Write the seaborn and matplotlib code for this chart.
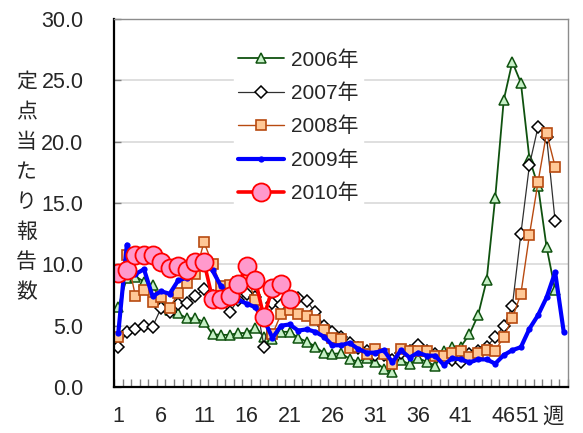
import numpy as np
import pandas as pd
import matplotlib
matplotlib.use("Agg")
import matplotlib.pyplot as plt
import matplotlib.transforms as mtransforms
import seaborn as sns

# values (per-sentinel reports by week)
weeks = list(range(1, 54))
nan = np.nan

y2006 = [6.5, 8.9, 9.0, 8.6, 8.3, 7.0, 6.3, 6.0, 5.6, 5.6,
         5.3, 4.3, 4.25, 4.25, 4.4, 4.4, 4.85, 4.1, 3.9, 4.5,
         4.5, 4.0, 3.7, 3.3, 2.75, 2.7, 2.75, 2.3, 2.05, 2.4,
         2.05, 1.5, 1.2, 2.2, 1.85, 2.35, 2.05, 1.75, 2.9, 3.3,
         3.3, 4.3, 5.85, 8.7, 15.4, 23.4, 26.5, 24.8, 18.6, 16.4,
         11.4, 7.9, nan]
y2007 = [3.25, 4.5, 4.7, 5.0, 4.9, 6.45, 6.1, 6.75, 6.85, 7.4,
         8.0, 7.4, 6.9, 6.1, 7.1, 7.6, 7.3, 3.3, 6.85, 6.7,
         7.2, 7.25, 7.0, 6.1, 5.0, 4.5, 4.1, 3.6, 3.2, 2.9,
         2.6, 2.6, 2.2, 2.8, 2.9, 3.45, 2.9, 2.7, 2.4, 2.2,
         2.05, 2.7, 2.9, 3.3, 4.05, 5.0, 6.6, 12.5, 18.1, 21.2,
         20.4, 13.5, nan]
y2008 = [4.05, 10.75, 7.4, 7.9, 6.95, 7.3, 6.4, 7.7, 8.45, 9.25,
         11.8, 10.05, 8.2, 8.3, 8.6, 9.0, 7.1, 5.6, 4.3, 5.95, 6.25,
         5.95, 5.8, 5.45, 4.65, 4.0, 3.95, 3.2, 3.3, 2.7, 3.1,
         2.7, 1.9, 3.1, 2.95, 2.95, 2.95, 2.55, 2.55, 2.8, 2.95,
         2.45, 2.75, 3.05, 2.95, 4.1, 5.6, 7.6, 12.4, 16.7, 20.7,
         17.95, nan]
y2009 = [4.4, 11.6, 9.2, 9.6, 7.4, 7.8, 7.6, 8.7, 8.9, 9.7,
         10.1, 9.5, 8.2, 7.5, 7.1, 6.8, 6.5, 5.5, 4.0, 5.0,
         5.1, 4.6, 4.7, 4.5, 4.1, 3.4, 3.4, 3.6, 3.1, 2.8,
         2.8, 3.0, 2.0, 3.0, 2.4, 2.8, 2.55, 2.55, 1.8, 2.35,
         2.25, 2.0, 2.25, 2.25, 1.9, 2.6, 3.0, 3.25, 4.75, 5.85,
         7.3, 9.35, 4.5]
y2010 = [9.3, 9.5, 10.8, 10.8, 10.8, 10.2, 9.7, 9.9, 9.5, 10.2,
         10.2, 7.2, 7.2, 7.4, 8.4, 9.9, 8.7, 5.7, 8.1, 8.4,
         7.2] + [nan] * 32

years = ["2006年", "2007年", "2008年", "2009年", "2010年"]
tick_weeks = [1, 6, 11, 16, 21, 26, 31, 36, 41, 46, 51, 53]
tick_labels = ["1", "6", "11", "16", "21", "26", "31", "36", "41", "46", "51", "週"]
ylabel = "定点当たり報告数"

sns.set_theme(style="white")
plt.rcParams["font.family"] = ["Liberation Sans", "Noto Sans CJK JP", "DejaVu Sans"]

fig = plt.figure(figsize=(5.83, 4.33), dpi=100)
ax = fig.add_axes([114 / 583, 1 - 387 / 433, 454 / 583, 368 / 433])

styles = [
    dict(color="#0f520f", lw=1.3, marker="^", ms=7.5, mfc="#c6f0c6", mec="#0f520f", mew=1.1),
    dict(color="#303030", lw=0.9, marker="D", ms=5.8, mfc="white", mec="black", mew=1.1),
    dict(color="#b84a10", lw=1.0, marker="s", ms=7, mfc="#ffc896", mec="#b84a10", mew=1.2),
    dict(color="#0000ff", lw=3.0, marker="o", ms=4.5, mfc="#0000ff", mec="#0000ff", mew=0),
    dict(color="#ff0000", lw=2.6, marker="o", ms=13, mfc="#ff99cc", mec="#ff0000", mew=1.3),
]
series = [y2006, y2007, y2008, y2009, y2010]

for lab, vals, st in zip(years, series, styles):
    df = pd.DataFrame({"week": weeks, "value": vals}).dropna()
    sns.lineplot(data=df, x="week", y="value", ax=ax, label=lab, **st)

ax.set_xlim(0.5, 53.5)
ax.set_ylim(0, 30)
ax.set_yticks(np.arange(0, 31, 5))
ax.set_yticklabels([f"{v:.1f}" for v in np.arange(0, 31, 5)])
ax.set_xticks(tick_weeks)
ax.set_xticklabels(tick_labels)
ax.set_xticks(np.arange(0.5, 54, 1), minor=True)
ax.set_xlabel("")
ax.set_ylabel("")

ax.yaxis.grid(True, color="#d9d9d9", lw=1.2)
ax.set_axisbelow(True)
for s in ["top", "right"]:
    ax.spines[s].set_color("#8c8c8c")
    ax.spines[s].set_linewidth(1.0)
for s in ["left", "bottom"]:
    ax.spines[s].set_color("black")
    ax.spines[s].set_linewidth(1.6)

ax.tick_params(axis="y", direction="in", length=5, width=1, color="#808080",
               labelsize=15.5, pad=22, left=True)
ax.tick_params(axis="x", which="major", length=0, labelsize=15.5, pad=14)
ax.tick_params(axis="x", which="minor", direction="in", length=6, width=1,
               color="#808080", bottom=True)

# the last two labels are squeezed left as in the original
shift = {"51": -14, "週": -8}
for t in ax.get_xticklabels():
    if t.get_text() in shift:
        off = mtransforms.ScaledTranslation(shift[t.get_text()] / 72, 0, fig.dpi_scale_trans)
        t.set_transform(t.get_transform() + off)

fig.text(26.5 / 583, 1 - 187 / 433, "\n".join(ylabel), fontsize=15,
         ha="center", va="center", linespacing=1.47,
         family=["Noto Sans CJK JP", "DejaVu Sans"])

leg = ax.legend(loc="upper left", bbox_to_anchor=(234 / 583, 1 - 46 / 433),
                bbox_transform=fig.transFigure, frameon=True, fancybox=False,
                edgecolor="white", facecolor="white", framealpha=1,
                fontsize=15, numpoints=1, handlelength=2.2, handletextpad=0.35,
                labelspacing=0.66, borderpad=0.2, borderaxespad=0)

fig.savefig("out.png", dpi=100)
